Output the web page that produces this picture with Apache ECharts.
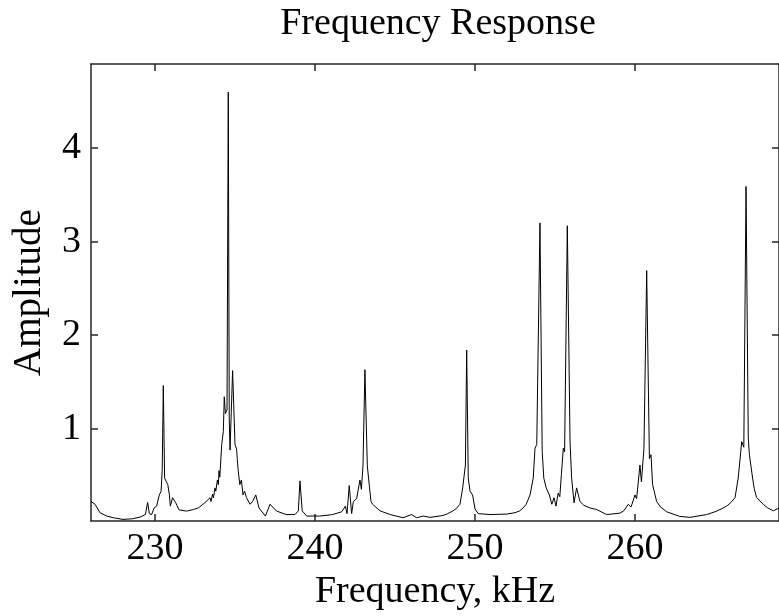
<!DOCTYPE html>
<html>
<head>
<meta charset="utf-8">
<script src="https://cdn.jsdelivr.net/npm/echarts@6/dist/echarts.min.js"></script>
<style>html,body{margin:0;padding:0;background:#fff}#c{width:779px;height:616px}</style>
</head>
<body>
<div id="c"></div>
<script>
var freq = [226.0,226.25,226.56,226.98,227.4,228.0,228.6,229.06,229.4,229.54,229.65,229.79,229.94,230.1,230.27,230.38,230.45,230.52,230.6,230.7,230.8,230.9,230.96,231.1,231.3,231.5,231.97,232.4,232.7,233.0,233.1,233.2,233.3,233.44,233.5,233.6,233.65,233.75,233.8,233.9,233.96,234.0,234.05,234.17,234.27,234.33,234.4,234.5,234.58,234.64,234.69,234.85,235.0,235.1,235.14,235.2,235.3,235.4,235.5,235.6,235.72,235.8,235.94,236.1,236.3,236.5,236.9,237.19,237.6,238.2,238.75,238.96,239.06,239.2,239.48,240.3,241.1,241.67,241.9,242.0,242.14,242.29,242.4,242.6,242.81,242.9,243.0,243.12,243.27,243.4,243.5,243.6,244.06,244.7,245.5,246.04,246.35,246.77,247.19,248.0,248.3,248.6,248.8,249.06,249.23,249.4,249.48,249.58,249.69,249.85,250.0,250.2,250.94,251.98,252.5,252.8,252.9,253.0,253.1,253.2,253.3,253.44,253.64,253.75,253.86,254.06,254.2,254.3,254.45,254.65,254.8,254.94,255.06,255.2,255.3,255.4,255.52,255.6,255.77,255.94,256.04,256.19,256.35,256.56,256.8,257.19,257.6,258.23,259.06,259.3,259.58,259.75,260.0,260.1,260.31,260.4,260.56,260.73,260.9,261.0,261.1,261.2,261.35,261.6,261.98,262.8,263.44,264.48,265.0,265.52,265.8,266.0,266.25,266.45,266.67,266.8,266.94,267.08,267.15,267.35,267.45,267.6,268.02,268.3,268.65,269.0];
var amp = [0.22,0.19,0.10,0.064,0.046,0.028,0.035,0.053,0.08,0.21,0.09,0.08,0.15,0.17,0.29,0.33,0.55,1.46,0.47,0.49,0.40,0.29,0.17,0.26,0.205,0.13,0.117,0.134,0.15,0.19,0.17,0.22,0.20,0.26,0.22,0.30,0.26,0.365,0.33,0.45,0.40,0.55,0.48,0.83,0.97,1.34,1.16,1.2,4.6,1.1,0.77,1.62,0.83,0.78,0.68,0.55,0.40,0.45,0.29,0.33,0.26,0.28,0.19,0.22,0.29,0.15,0.064,0.19,0.117,0.08,0.08,0.12,0.44,0.12,0.064,0.064,0.08,0.11,0.17,0.09,0.39,0.09,0.22,0.25,0.45,0.35,0.61,1.63,0.6,0.38,0.22,0.19,0.12,0.08,0.046,0.08,0.046,0.064,0.05,0.07,0.09,0.117,0.14,0.19,0.365,0.61,1.84,0.47,0.33,0.29,0.14,0.09,0.08,0.085,0.10,0.12,0.10,0.15,0.13,0.19,0.17,0.29,0.47,0.79,0.83,3.2,0.755,0.47,0.365,0.29,0.19,0.26,0.17,0.31,0.27,0.51,0.79,0.75,3.17,0.86,0.47,0.205,0.365,0.22,0.18,0.15,0.134,0.08,0.095,0.12,0.19,0.16,0.29,0.25,0.61,0.43,0.79,2.69,0.68,0.72,0.40,0.33,0.22,0.16,0.11,0.06,0.05,0.08,0.11,0.15,0.18,0.21,0.26,0.47,0.86,0.80,3.59,0.90,0.72,0.47,0.36,0.26,0.19,0.15,0.12,0.15];
var xTicks = [230,240,250,260];
var yTicks = [1,2,3,4];

var FONT = 'Liberation Serif';
var axisLineStyle = {color:'#262626', width:1.5};
var data = freq.map(function(f,i){return [f, amp[i]];});
var chart = echarts.init(document.getElementById('c'), null, {renderer:'canvas'});
chart.setOption({
  animation:false,
  backgroundColor:'#fff',
  title:{text:'Frequency Response', left:433, top:0, textAlign:'center',
    textStyle:{fontFamily:FONT, fontSize:38, fontWeight:'normal', color:'#000'}},
  grid:{left:91, top:64, width:689, height:459.3, containLabel:false},
  xAxis:[{
    type:'value', position:'bottom', min:226, max:269,
    name:'Frequency, kHz', nameLocation:'middle', nameGap:46,
    nameTextStyle:{fontFamily:FONT, fontSize:38, color:'#000'},
    axisLine:{show:true, onZero:false, lineStyle:axisLineStyle},
    axisTick:{show:true, inside:true, length:7, customValues:xTicks, lineStyle:axisLineStyle},
    axisLabel:{show:true, customValues:xTicks, margin:9, fontFamily:FONT, fontSize:38, color:'#000'},
    splitLine:{show:false}
  },{
    type:'value', position:'top', min:226, max:269,
    axisLine:{show:true, onZero:false, lineStyle:axisLineStyle},
    axisTick:{show:true, inside:true, length:7, customValues:xTicks, lineStyle:axisLineStyle},
    axisLabel:{show:false}, splitLine:{show:false}
  }],
  yAxis:[{
    type:'value', position:'left', min:0.01, max:4.9,
    name:'Amplitude', nameLocation:'middle', nameGap:42,
    nameTextStyle:{fontFamily:FONT, fontSize:39, color:'#000'},
    axisLine:{show:true, onZero:false, lineStyle:axisLineStyle},
    axisTick:{show:true, inside:true, length:7, customValues:yTicks, lineStyle:axisLineStyle},
    axisLabel:{show:true, customValues:yTicks, margin:10, fontFamily:FONT, fontSize:38, color:'#000'},
    splitLine:{show:false}
  },{
    type:'value', position:'right', min:0.01, max:4.9,
    axisLine:{show:true, onZero:false, lineStyle:axisLineStyle},
    axisTick:{show:true, inside:true, length:7, customValues:yTicks, lineStyle:axisLineStyle},
    axisLabel:{show:false}, splitLine:{show:false}
  }],
  series:[{
    type:'line', data:data, xAxisIndex:0, yAxisIndex:0,
    showSymbol:false, symbol:'none', smooth:false, clip:true,
    lineStyle:{color:'#000', width:1}
  }]
});
</script>
</body>
</html>
